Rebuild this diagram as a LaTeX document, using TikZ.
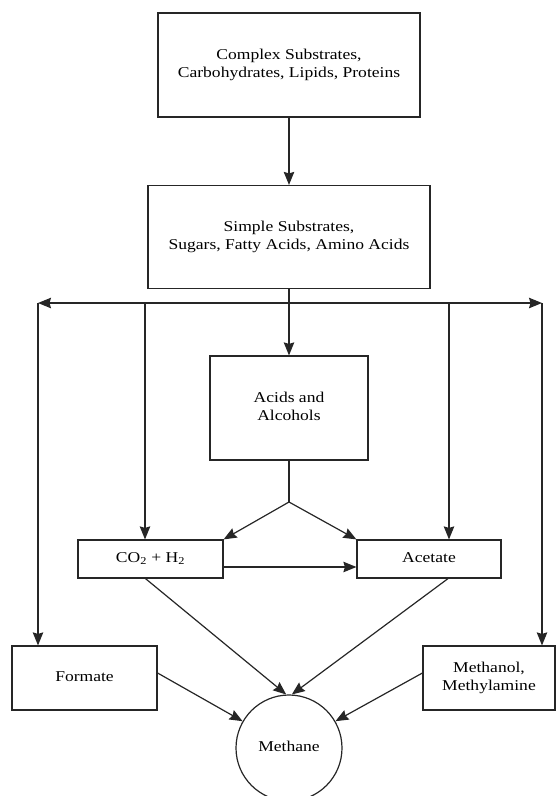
\documentclass[tikz,border=0pt]{standalone}
\usepackage{fontspec}
\setmainfont{Liberation Serif}
\usetikzlibrary{arrows.meta}
\newcommand{\widetext}[1]{\scalebox{1.17}[1]{\begin{tabular}{@{}c@{}}#1\end{tabular}}}

\begin{document}
\begin{tikzpicture}[x=1pt,y=-1pt,line width=1.2pt,draw=black!85,
	box/.style={draw,rectangle,inner sep=0pt,font=\fontsize{15}{17.5}\selectfont},
	pot/.style={draw,circle,inner sep=0pt,minimum size=106pt,font=\fontsize{15}{17.5}\selectfont},
	flow/.style={-{Stealth[length=13pt,width=10.5pt,inset=1.5pt]}}]
	\useasboundingbox (0,0) rectangle (556,796);
	
	%SUBSTRATE BOXES
	\node[box,minimum width=262pt,minimum height=104pt] (complex) at (289,65) {\widetext{Complex Substrates,\\Carbohydrates, Lipids, Proteins}};
	\node[box,minimum width=282pt,minimum height=103pt] (simple) at (289,237) {\widetext{Simple Substrates,\\Sugars, Fatty Acids, Amino Acids}};
	\node[box,minimum width=158pt,minimum height=104pt] (acids) at (289,408) {\widetext{Acids and\\Alcohols}};
	
	%INTERMEDIATES
	\node[box,minimum width=145pt,minimum height=38pt] (co2) at (150.5,559) {\widetext{CO\textsubscript{2} + H\textsubscript{2}}};
	\node[box,minimum width=144pt,minimum height=38pt] (acetate) at (429,559) {\widetext{Acetate}};
	\node[box,minimum width=145pt,minimum height=64pt] (formate) at (84.5,678) {\widetext{Formate}};
	\node[box,minimum width=132pt,minimum height=64pt] (methanol) at (489,678) {\widetext{Methanol,\\Methylamine}};
	\node[pot] (methane) at (289,748) {\widetext{Methane}};
	
	\coordinate (bus) at (289,303);
	\coordinate (lcorner) at (38,303);
	\coordinate (rcorner) at (542,303);
	\coordinate (tapco2) at (145,303);
	\coordinate (tapacetate) at (449,303);
	\coordinate (fork) at (289,502);
	
	%ARROWS
	\draw[flow] (complex) -- (simple);
	\draw[flow] (simple.south) -- (acids.north);
	\draw[flow] (bus) -- (lcorner);
	\draw[flow] (bus) -- (rcorner);
	\draw[flow] (lcorner) -- (lcorner |- formate.north);
	\draw[flow] (rcorner) -- (rcorner |- methanol.north);
	\draw[flow] (tapco2) -- (tapco2 |- co2.north);
	\draw[flow] (tapacetate) -- (tapacetate |- acetate.north);
	\draw (acids.south) -- (fork);
	\draw[flow] (fork) -- (co2.north east);
	\draw[flow] (fork) -- (acetate.north west);
	\draw[flow] ([yshift=-8pt]co2.east) -- ([yshift=-8pt]acetate.west);
	
	%INTO METHANE
	\draw[flow] ([xshift=-5pt]co2.south) -- (methane.93);
	\draw[flow] ([xshift=19pt]acetate.south) -- (methane.87);
	\draw[flow] ([yshift=5pt]formate.east) -- (methane.150);
	\draw[flow] ([yshift=5pt]methanol.west) -- (methane.30);
\end{tikzpicture}
\end{document}
